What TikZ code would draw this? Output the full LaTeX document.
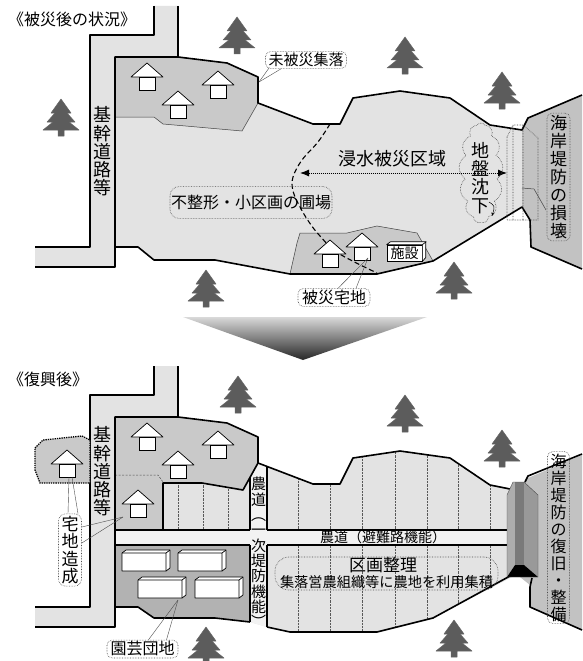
\documentclass[tikz,border=0pt]{standalone}
\usepackage{fontspec}
\newfontfamily\jp{Noto Sans CJK JP}
\usetikzlibrary{arrows.meta,shapes.symbols}
\definecolor{fieldgray}{gray}{0.89}
\definecolor{villagegray}{gray}{0.79}
\definecolor{coastgray}{gray}{0.76}
\definecolor{hortgray}{gray}{0.70}
\definecolor{treegray}{gray}{0.36}
\definecolor{lanegray}{gray}{0.95}
\newcommand{\jpfs}[1]{\jp\fontsize{#1}{#1}\selectfont}
\newcommand{\vfs}[2]{\jp\fontsize{#1}{#2}\selectfont}
\begin{document}
\begin{tikzpicture}[x=1pt,y=-1pt,
  bold/.style={line width=1.6pt,line join=round},
  roadline/.style={line width=1.1pt},
  fine/.style={line width=0.5pt,draw=black!75},
  tag/.style={draw=black!70,densely dotted,line width=0.6pt,rounded corners=5pt,inner sep=2pt},
  vtag/.style={tag,align=center,inner xsep=3pt,inner ysep=2pt},
  leader/.style={line width=0.4pt,draw=black!70},
  plotline/.style={densely dotted,line width=0.45pt,draw=black!65},
  pine/.pic={\filldraw[fill=treegray,draw=black!60,line width=0.5pt,line join=round]
    (0,-18) -- (10,-4) -- (6,-4) -- (14,5) -- (8,5) -- (18,13) -- (3,13) -- (3,19)
    -- (-3,19) -- (-3,13) -- (-18,13) -- (-8,5) -- (-14,5) -- (-6,-4) -- (-10,-4) -- cycle;},
  house/.pic={\filldraw[fill=white,draw=black,line width=0.7pt,line join=round]
      (-16,14) -- (0,0) -- (16,14) -- cycle;
    \filldraw[fill=white,draw=black,line width=0.7pt] (-8,14) rectangle (8,27);},
  greenhouse/.pic={\filldraw[fill=white,draw=black,line width=0.7pt,line join=round]
      (0,0) -- (4,-3) -- (48,-3) -- (48,15) -- (44,18) -- (0,18) -- cycle;
    \draw[line width=0.7pt,line join=round] (0,0) -- (44,0) -- (48,-3) (44,0) -- (44,18);}
]
\useasboundingbox (0,0) rectangle (582,661);
\fill[white] (0,0) rectangle (582,661);

%% ================= before: damaged state =================
% trunk road
\fill[fieldgray] (154,6) -- (154,35) -- (90,35) -- (90,247) -- (35,247) -- (35,267)
  -- (115,267) -- (115,57) -- (178,57) -- (178,6) -- cycle;
% flooded farmland
\fill[fieldgray] (115,117) -- (154,117) -- (163,124) -- (242,131) -- (258,103) -- (313,124)
  -- (340,124) -- (353,98) -- (400,91) -- (450,98) -- (490,125) -- (522,130) -- (522,207)
  -- (433,261) -- (377,274) -- (290,274) -- (215,260) -- (154,260) -- (138,247) -- (115,247) -- cycle;
% undamaged village
\filldraw[fill=villagegray,fine] (115,57) -- (178,57) -- (227,63) -- (258,77) -- (258,103)
  -- (242,131) -- (163,124) -- (154,117) -- (115,117) -- cycle;
% coastal strip
\fill[coastgray] (522,130) -- (528,118) -- (582,95) -- (582,269) -- (531,247) -- (530,220) -- (522,207) -- cycle;
\draw[fine] (522,188) -- (534,189) -- (546,210);
% damaged housing plot
\filldraw[fill=villagegray,fine] (290,274) -- (297,243) -- (300,233) -- (347,233) -- (377,226)
  -- (417,233) -- (433,261) -- (377,274) -- cycle;
% outlines
\draw[bold] (154,6) -- (154,35) -- (90,35) -- (90,247) -- (35,247);
\draw[bold] (178,6) -- (178,57);
\draw[bold] (35,267) -- (115,267) -- (115,57) -- (178,57) -- (227,63) -- (258,77) -- (258,103)
  -- (313,124) -- (340,124) -- (353,98) -- (400,91) -- (450,98) -- (490,125) -- (522,130)
  -- (528,118) -- (582,95);
\draw[bold] (115,247) -- (138,247) -- (154,260) -- (215,260) -- (290,274) -- (377,274)
  -- (433,261) -- (522,207) -- (530,220) -- (531,247) -- (582,269);
% broken seawall (dotted)
\draw[densely dotted,line width=0.6pt,draw=black!75] (507,137) -- (513,125) -- (523,125) -- (538,138)
  -- (538,220) -- (507,220) -- cycle (513,125) -- (513,220) (523,125) -- (523,220);
% flood line
\draw[line width=1.1pt,dash pattern=on 5pt off 3pt] plot[smooth,tension=0.6] coordinates
  {(330,124) (318,142) (302,160) (293,177) (293,191) (300,207) (309,222) (320,236) (338,253) (377,273)};

% houses
\pic (hA) at (147,63) {house};
\pic (hB) at (178,91) {house};
\pic (hC) at (218,71) {house};
\pic (hD) at (330,240) {house};
\pic (hE) at (362,233) {house};
\node[draw,fill=white,line width=0.7pt,minimum width=35pt,minimum height=16pt,inner sep=0pt,
  font=\jpfs{14}] (facility) at (404.5,253) {施設};
\filldraw[fill=white,line width=0.7pt,line join=round] (facility.north west) -- ++(4,-3)
  -- ++(35,0) -- ++(0,16) -- (facility.south east) -- (facility.north east) -- cycle;
\draw[line width=0.7pt] (facility.north east) -- ++(4,-3);

% trees
\pic at (237,35) {pine};
\pic at (61,117) {pine};
\pic at (405,55) {pine};
\pic at (502,90) {pine};
\pic at (206,288) {pine};
\pic at (454,280) {pine};

% labels
\node[anchor=west,font=\jpfs{16},inner sep=0pt] (titleA) at (8,19) {《被災後の状況》};
\node[align=center,font=\vfs{18}{18.3}] (roadA) at (102,151.5) {基\\幹\\道\\路\\等};
\node[tag,font=\jpfs{15},inner xsep=3pt,inner ysep=1.5pt] (intact) at (306,60) {未被災集落};
\coordinate (intactTip) at (259,82);
\draw[leader] (intact.south west) ++(4,-1) -- (intactTip);
\draw[leader] (intact.south west) ++(16,0) -- (intactTip);

\node[tag,font=\jpfs{16},inner xsep=1pt,inner ysep=8.5pt,rounded corners=9pt] (irregular) at (251,202.5) {不整形・小区画の圃場};

\coordinate (floodW) at (300,173);
\coordinate (floodE) at (507,173);
\draw[densely dotted,line width=1pt,{Latex[length=9pt,width=7pt]}-{Latex[length=9pt,width=7pt]}] (floodW) -- (floodE);
\node[font=\jpfs{18}] (floodtxt) at (392,159) {浸水被災区域};

\node[cloud,cloud puffs=13,cloud puff arc=115,aspect=0.45,draw=black!70,densely dotted,
  line width=0.6pt,minimum width=44pt,minimum height=100pt] (sink) at (481,173) {};
\node[align=center,font=\vfs{18}{18.2}] (sinktxt) at (480,178) {地\\盤\\沈\\下};
\coordinate (sinkA) at (489,202);
\coordinate (sinkB) at (492,216);
\draw[line width=0.5pt,-{Stealth[length=3.5pt,width=3pt]}] (sinkA) .. controls (495,206) .. (sinkB);

\node[vtag,font=\vfs{17}{18}] (coastA) at (558.5,177) {海\\岸\\堤\\防\\の\\損\\壊};

\node[tag,font=\jpfs{16},inner xsep=4pt,inner ysep=1.5pt] (dmghouse) at (334,297.5) {被災宅地};
\coordinate (dmgTip) at (368,258);
\draw[leader] (dmghouse.north) ++(4,0) -- (dmgTip);
\draw[leader] (dmghouse.north) ++(22,0) -- (dmgTip);

% transition arrow
\shade[top color=black!15,bottom color=black!85] (183,317) -- (427,317) -- (303,360) -- cycle;

%% ================= after: reconstruction =================
% trunk road
\begin{scope}[shift={(0,360)}]
\fill[fieldgray] (154,6) -- (154,35) -- (90,35) -- (90,247) -- (35,247) -- (35,267)
  -- (115,267) -- (115,57) -- (178,57) -- (178,6) -- cycle;
\draw[bold] (154,6) -- (154,35) -- (90,35) -- (90,247) -- (35,247);
\draw[bold] (178,6) -- (178,57);
\end{scope}
% consolidated farmland
\fill[fieldgray] (115,530) -- (163,530) -- (163,483) -- (202,483) -- (243,490) -- (258,463)
  -- (313,484) -- (340,484) -- (353,458) -- (400,451) -- (450,458) -- (490,485) -- (512,489)
  -- (512,577) -- (433,618) -- (377,632) -- (290,632) -- (267,627) -- (250,622) -- (215,618)
  -- (154,618) -- (138,607) -- (115,607) -- cycle;
\begin{scope}
\clip (163,483) -- (202,483) -- (243,490) -- (258,463) -- (313,484) -- (340,484) -- (353,458)
  -- (400,451) -- (450,458) -- (490,485) -- (512,489) -- (512,577) -- (433,618) -- (377,632)
  -- (290,632) -- (267,627) -- (250,622) -- (250,530) -- (163,530) -- cycle;
\foreach \px in {178,203,228} \draw[plotline] (\px,470) -- (\px,530);
\foreach \px in {298,330,362,395,427,458,490} \draw[plotline] (\px,440) -- (\px,640);
\end{scope}
% coastal strip
\fill[coastgray] (520,490) -- (528,478) -- (582,455) -- (582,630) -- (531,607) -- (530,585) -- (520,577) -- cycle;
% village
\fill[villagegray] (115,417) -- (178,417) -- (227,423) -- (258,437) -- (258,463) -- (243,490)
  -- (202,483) -- (163,483) -- (163,530) -- (115,530) -- cycle;
\draw[line width=0.5pt,dash pattern=on 2pt off 1.5pt,draw=black!70] (115,475) -- (158,475) -- (163,482);
% farm roads
\fill[lanegray] (115,530) rectangle (510,545);
\fill[lanegray] (250,477) -- (258,463) -- (267,466) -- (267,627) -- (250,622) -- cycle;
% horticulture estate
\fill[hortgray] (115,545) -- (250,545) -- (250,622) -- (215,618) -- (154,618) -- (138,607) -- (115,607) -- cycle;
% new housing lot
\filldraw[fill=villagegray,densely dotted,line width=1.3pt] (35,448) -- (43,440) -- (82,436) -- (90,440)
  -- (90,483) -- (40,483) -- (35,470) -- cycle;
% outlines
\draw[bold] (35,627) -- (115,627) -- (115,417) -- (178,417) -- (227,423) -- (258,437) -- (258,463)
  -- (313,484) -- (340,484) -- (353,458) -- (400,451) -- (450,458) -- (490,485) -- (510,489);
\draw[bold] (258,463) -- (243,490) -- (202,483) -- (163,483) -- (163,530);
\draw[roadline] (115,530) -- (250,530) (267,530) -- (510,530);
\draw[roadline] (115,545) -- (250,545) (267,545) -- (510,545);
\draw[roadline] (250,477) -- (250,530) (250,545) -- (250,622);
\draw[roadline] (267,466) -- (267,530) (267,545) -- (267,627);
\draw[bold] (115,607) -- (138,607) -- (154,618) -- (215,618) -- (250,622);
\draw[bold] (267,627) -- (290,632) -- (377,632) -- (433,618) -- (510,576);
\draw[bold] (525,482) -- (528,476) -- (582,454);
\draw[bold] (532,578) -- (530,587) -- (530,607) -- (582,630);
% restored seawall
\fill[black!32] (507,495) -- (513,482) -- (515,482) -- (515,565) -- (507,577) -- cycle;
\fill[black!52] (515,482) -- (524,482) -- (524,565) -- (515,565) -- cycle;
\fill[black!40] (524,482) -- (538,495) -- (538,577) -- (524,565) -- cycle;
\fill[black] (507,577) -- (515,565) -- (524,565) -- (538,577) -- cycle;
\draw[line width=0.4pt,draw=black!70,line join=round] (507,495) -- (513,482) -- (524,482) -- (538,495)
  -- (538,577) -- (507,577) -- cycle;

% houses
\pic (nA) at (147,423) {house};
\pic (nB) at (178,451) {house};
\pic (nC) at (218,431) {house};
\pic (nD) at (138,490) {house};
\pic (nE) at (67,450) {house};
% greenhouses
\pic (g1) at (122,553) {greenhouse};
\pic (g2) at (178,553) {greenhouse};
\pic (g3) at (138,580) {greenhouse};
\pic (g4) at (195,580) {greenhouse};

% trees
\pic at (238,394) {pine};
\pic at (405,413) {pine};
\pic at (502,448) {pine};
\pic at (206,645) {pine};
\pic at (454,638) {pine};

% labels
\node[anchor=west,font=\jpfs{16},inner sep=0pt] (titleB) at (8,379) {《復興後》};
\node[align=center,font=\vfs{18}{18.3}] (roadB) at (102,471.5) {基\\幹\\道\\路\\等};

\node[vtag,font=\vfs{17}{17.5},rounded corners=7pt] (newlot) at (70,550) {宅\\地\\造\\成};
\coordinate (lotTipA) at (69,477);
\coordinate (lotTipB) at (72,477);
\coordinate (lotTipC) at (123,517);
\draw[leader] (newlot.north) ++(-2,0) -- (lotTipA);
\draw[leader] (newlot.north) ++(8,0) -- (lotTipB);
\draw[leader] (newlot.east) ++(0,-23) -- (lotTipC);
\draw[leader] (newlot.east) ++(0,-7) -- (lotTipC);

\node[align=center,font=\vfs{15}{15.3}] (sidelane) at (258.5,552.5) {農\\道\\︵\\一\\次\\堤\\防\\機\\能\\︶};
\node[font=\jpfs{14}] (mainlane) at (383,537.5) {農道（避難路機能）};

\node[tag,minimum width=223pt,minimum height=33pt,rounded corners=14pt] (consol) at (386.5,573.5) {};
\node[font=\jpfs{17}] (consolA) at (383,565) {区画整理};
\node[font=\jpfs{14.2}] (consolB) at (386.5,582) {集落営農組織等に農地を利用集積};

\node[vtag,font=\vfs{16}{17}] (coastB) at (558.5,537.5) {海\\岸\\堤\\防\\の\\復\\旧\\・\\整\\備};

\node[tag,font=\jpfs{16},inner xsep=3.5pt,inner ysep=1.5pt] (hort) at (142.5,649) {園芸団地};
\coordinate (hortTip) at (178,600);
\draw[leader] (hort.north) ++(6,0) -- (hortTip);
\draw[leader] (hort.north) ++(24,0) -- (hortTip);
\end{tikzpicture}
\end{document}
